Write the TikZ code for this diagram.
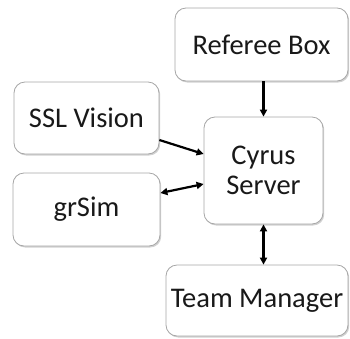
\documentclass[tikz,border=0pt]{standalone}
\usepackage{fontspec}
\setmainfont{Carlito}
\usetikzlibrary{arrows.meta,shadows}
\begin{document}
\begin{tikzpicture}[x=1pt,y=-1pt,
  box/.style={draw=gray!70, line width=0.8pt, rounded corners=11pt, fill=white,
    drop shadow={shadow xshift=1.2pt, shadow yshift=-1.5pt, fill=gray!60, opacity=0.6},
    font=\fontsize{28.5}{33}\selectfont, text=black!90, align=center, inner sep=0pt},
  conn/.style={line width=2.2pt, -{Triangle[length=7pt,width=7pt]}},
  conn2/.style={line width=2.2pt, {Triangle[length=7pt,width=7pt]}-{Triangle[length=7pt,width=7pt]}}]
\useasboundingbox (0,0) rectangle (350,338);
\node[box, minimum width=173pt, minimum height=73pt] (ref) at (261.5,44.5) {Referee Box};
\node[box, minimum width=145pt, minimum height=72pt] (ssl) at (86.5,118) {SSL Vision};
\node[box, minimum width=147pt, minimum height=73pt] (grsim) at (86.5,209.5) {grSim};
\node[box, minimum width=119pt, minimum height=107pt] (cyrus) at (263.5,170.5) {Cyrus\\[-3pt]Server};
\node[box, minimum width=182pt, minimum height=71pt] (team) at (257,300.5) {Team Manager};
\draw[conn] (ref.south -| cyrus.north) -- (cyrus.north);
\draw[conn] ([yshift=-22pt]ssl.east) -- ([yshift=16.5pt]cyrus.west);
\draw[conn2] ([yshift=16.5pt]grsim.east) -- ([yshift=-13.5pt]cyrus.west);
\draw[conn2] (cyrus.south) -- (cyrus.south |- team.north);
\end{tikzpicture}
\end{document}
